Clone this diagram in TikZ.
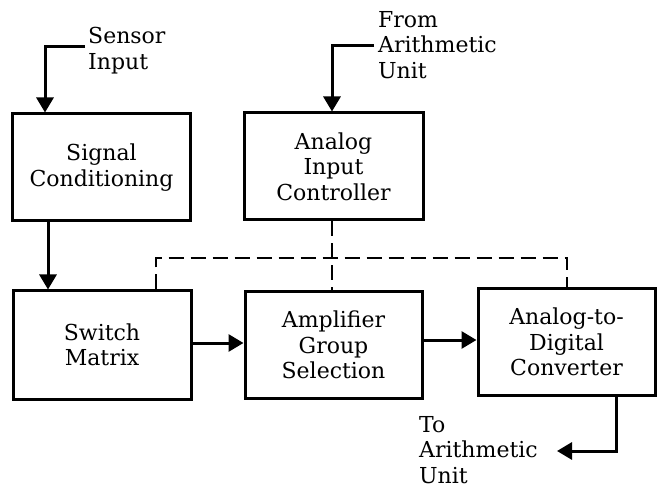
\documentclass[tikz,border=0pt]{standalone}
\usepackage{fontspec}
\setmainfont{DejaVu Serif}
\usetikzlibrary{arrows.meta}
\begin{document}
\begin{tikzpicture}[x=1pt,y=-1pt,
  txt/.style={font=\fontsize{22}{25.5}\selectfont},
  box/.style={txt, draw, line width=3pt, minimum width=178pt, minimum height=107pt, align=center, inner sep=0pt},
  lbl/.style={txt, align=left, inner sep=0pt, anchor=north west},
  conn/.style={line width=3pt},
  arr/.style={conn, -{Triangle[length=15pt,width=17pt]}},
  dsh/.style={line width=2.8pt, dash pattern=on 15pt off 7pt}]
\fill[white] (0,0) rectangle (659,489);
\useasboundingbox (0,0) rectangle (659,489);
% boxes
\node[box] (sc)  at (101.5,167.5) {Signal\\Conditioning};
\node[box, minimum width=179pt] (aic) at (333.5,166.5) {Analog\\Input\\Controller};
\node[box, minimum height=108pt] (sm)  at (102,345) {Switch\\Matrix};
\node[box, minimum width=177pt, minimum height=106pt] (amp) at (333.5,345) {Amplifier\\Group\\Selection};
\node[box, minimum width=177pt, minimum height=106pt] (adc) at (566.5,342) {Analog-to-\\Digital\\Converter};
% labels
\node[lbl] (sens) at (88,27) {Sensor\\Input};
\node[lbl] (fau) at (378,11) {From\\Arithmetic\\Unit};
\node[lbl] (tau) at (419,416) {To\\Arithmetic\\Unit};
% connector ends
\coordinate (sensend) at (85,47);
\coordinate (fauend) at (374,46);
\coordinate (tauend) at (557,451);
\coordinate (dy) at (332,258);
% input arrows
\draw[arr] (sensend) -| ([xshift=-56.5pt]sc.north);
\draw[arr] (fauend) -| ([xshift=-1.5pt]aic.north);
% signal path
\draw[arr] ([xshift=-53.5pt]sc.south) -- ([xshift=-54pt]sm.north);
\coordinate (smo) at ([yshift=2pt]sm.east);
\draw[arr] (smo) -- (smo -| amp.west);
\coordinate (ampo) at ([yshift=5pt]amp.east);
\draw[arr] (ampo) -- (ampo -| adc.west);
\draw[arr] ([xshift=49.5pt]adc.south) |- (tauend);
% control (dashed)
\draw[dsh] ([xshift=54pt]sm.north) |- (dy) -| ([xshift=0.5pt]adc.north);
\draw[dsh] ([xshift=-1.5pt]aic.south) -- ([xshift=-1.5pt]amp.north);
\end{tikzpicture}
\end{document}
